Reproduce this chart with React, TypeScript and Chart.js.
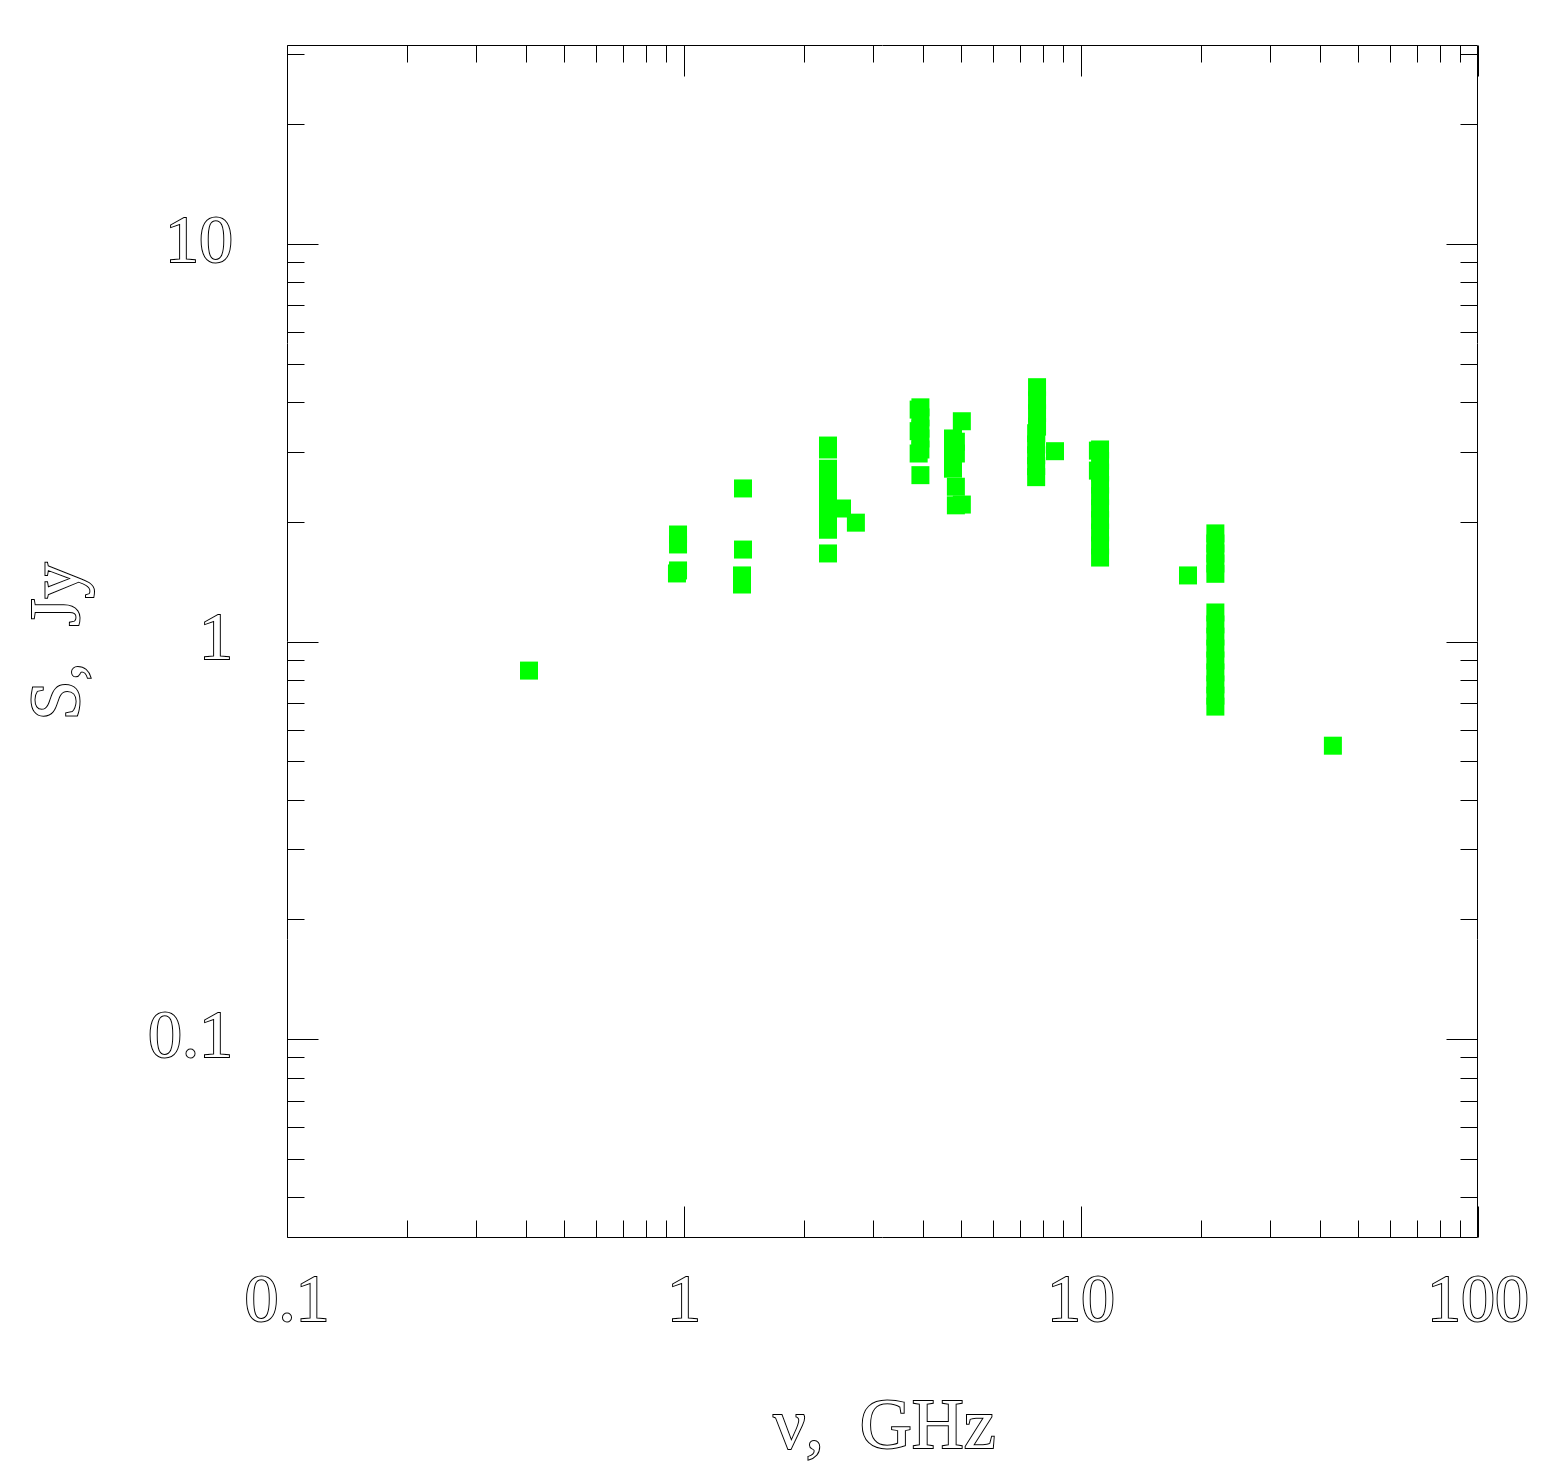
import React, { useEffect, useRef } from 'react';
import { Chart, registerables } from 'chart.js';

Chart.register(...registerables);

// Observed spectrum: frequency (GHz) and flux density (Jy)
const freqGHz = [
  0.407,
  0.966, 0.966, 0.966, 0.96,
  1.408, 1.408, 1.4, 1.4,
  2.305, 2.305, 2.305, 2.305, 2.305, 2.305, 2.305, 2.305, 2.305,
  2.5, 2.71,
  3.94, 3.94, 3.94, 3.94, 3.94, 3.9, 3.9, 3.9, 3.94,
  5.01,
  4.76, 4.76, 4.76, 4.76,
  4.84, 4.84, 4.84, 4.84,
  5.01,
  7.75, 7.75, 7.75, 7.75,
  7.71, 7.71, 7.71, 7.71, 7.71,
  8.6,
  11.17, 11.17, 11.17, 11.17, 11.17, 11.17, 11.17, 11.17, 11.17, 11.17,
  11.03, 11.03,
  18.6,
  21.8, 21.8, 21.8, 21.8, 21.8,
  21.8, 21.8, 21.8, 21.8, 21.8, 21.8, 21.8, 21.8, 21.8,
  43.1,
];
const fluxJy = [
  0.845,
  1.858, 1.754, 1.509, 1.483,
  2.426, 1.703, 1.466, 1.391,
  3.11, 3.04, 2.72, 2.54, 2.37, 2.2, 2.05, 1.91, 1.665,
  2.16, 1.99,
  3.88, 3.66, 3.43, 3.24, 3.04, 3.83, 3.38, 2.97, 2.62,
  3.58,
  3.24, 3.06, 2.89, 2.72,
  3.18, 2.97, 2.45, 2.2,
  2.21,
  4.36, 4.04, 3.75, 3.47,
  3.34, 3.13, 2.94, 2.76, 2.59,
  3.01,
  3.04, 2.85, 2.66, 2.48, 2.32, 2.16, 2.02, 1.88, 1.744, 1.626,
  3.02, 2.69,
  1.466,
  1.87, 1.764, 1.665, 1.571, 1.48,
  1.183, 1.104, 1.029, 0.96, 0.896, 0.836, 0.78, 0.731, 0.686,
  0.547,
];

const xMin = 0.1;
const xMax = 100;
const yMin = 0.031623;
const yMax = 31.623;

const xTickValues = [0.1, 1, 10, 100];
const xTickLabels = ['0.1', '1', '10', '100'];
const yTickValues = [0.1, 1, 10];
const yTickLabels = ['0.1', '1', '10'];

const xMinorTicks = [
  0.2, 0.3, 0.4, 0.5, 0.6, 0.7, 0.8, 0.9,
  2, 3, 4, 5, 6, 7, 8, 9,
  20, 30, 40, 50, 60, 70, 80, 90,
];
const yMinorTicks = [
  0.04, 0.05, 0.06, 0.07, 0.08, 0.09,
  0.2, 0.3, 0.4, 0.5, 0.6, 0.7, 0.8, 0.9,
  2, 3, 4, 5, 6, 7, 8, 9,
  20, 30,
];

const xTitle = 'ν,  GHz';
const yTitle = 'S,  Jy';

const FONT = "'Liberation Serif', 'DejaVu Serif', serif";
const FONT_SIZE = 68;
const TITLE_SIZE = 72;

const frameTicksPlugin = {
  id: 'frameTicks',
  afterDraw(chart: any) {
    const { ctx, chartArea: a, scales } = chart;
    const xs = scales.x;
    const ys = scales.y;
    const L = Math.round(a.left) + 0.5;
    const R = Math.round(a.right) - 0.5;
    const T = Math.round(a.top) + 0.5;
    const B = Math.round(a.bottom) - 0.5;
    ctx.save();
    ctx.strokeStyle = '#000';
    ctx.lineWidth = 1;
    ctx.beginPath();
    ctx.rect(L, T, R - L, B - T);
    const major = 31;
    const minor = 17;
    const xMark = (v: number, len: number) => {
      const px = Math.round(xs.getPixelForValue(v)) + 0.5;
      ctx.moveTo(px, B);
      ctx.lineTo(px, B - len);
      ctx.moveTo(px, T);
      ctx.lineTo(px, T + len);
    };
    const yMark = (v: number, len: number) => {
      const py = Math.round(ys.getPixelForValue(v)) + 0.5;
      ctx.moveTo(L, py);
      ctx.lineTo(L + len, py);
      ctx.moveTo(R, py);
      ctx.lineTo(R - len, py);
    };
    xTickValues.forEach((v) => xMark(v, major));
    xMinorTicks.forEach((v) => xMark(v, minor));
    yTickValues.forEach((v) => yMark(v, major));
    yMinorTicks.forEach((v) => yMark(v, minor));
    ctx.stroke();

    // axis titles, drawn as outlined text
    ctx.font = `${TITLE_SIZE}px ${FONT}`;
    ctx.lineWidth = 2;
    ctx.strokeStyle = '#000';
    ctx.fillStyle = '#fff';
    ctx.textAlign = 'center';
    ctx.textBaseline = 'alphabetic';
    const cx = (a.left + a.right) / 2 + 2;
    ctx.strokeText(xTitle, cx, a.bottom + 210);
    ctx.fillText(xTitle, cx, a.bottom + 210);
    ctx.save();
    ctx.translate(79, (a.top + a.bottom) / 2);
    ctx.rotate(-Math.PI / 2);
    ctx.strokeText(yTitle, 0, 0);
    ctx.fillText(yTitle, 0, 0);
    ctx.restore();
    ctx.restore();
  },
};

const zeroPadding = (s: any) => {
  s.paddingTop = 0;
  s.paddingBottom = 0;
  s.paddingLeft = 0;
  s.paddingRight = 0;
};

export default function App() {
  const canvasRef = useRef<HTMLCanvasElement | null>(null);

  useEffect(() => {
    const canvas = canvasRef.current;
    if (!canvas) return;
    const points = freqGHz.map((f, i) => ({ x: f, y: fluxJy[i] }));
    const tickFont = { family: FONT, size: FONT_SIZE };
    const chart = new Chart(canvas, {
      type: 'scatter',
      data: {
        datasets: [
          {
            data: points,
            backgroundColor: '#00ff00',
            borderColor: '#00ff00',
            borderWidth: 0,
            pointStyle: 'rect',
            pointRadius: 12.73,
            pointHoverRadius: 12.73,
          },
        ],
      },
      options: {
        responsive: false,
        animation: false,
        events: [],
        layout: { padding: { top: 45, right: 65, left: 0, bottom: 0 } },
        plugins: { legend: { display: false }, tooltip: { enabled: false } },
        scales: {
          x: {
            type: 'logarithmic',
            position: 'bottom',
            min: xMin,
            max: xMax,
            grid: { display: false, drawTicks: false },
            border: { display: false },
            ticks: {
              autoSkip: false,
              maxRotation: 0,
              minRotation: 0,
              padding: 24,
              font: tickFont,
              color: '#fff',
              textStrokeColor: '#000',
              textStrokeWidth: 2,
              callback: (_v: any, i: number) => xTickLabels[i],
            },
            afterBuildTicks: (s: any) => {
              s.ticks = xTickValues.map((v) => ({ value: v }));
            },
            afterFit: (s: any) => {
              s.height = 224;
              zeroPadding(s);
            },
          },
          y: {
            type: 'logarithmic',
            position: 'left',
            min: yMin,
            max: yMax,
            grid: { display: false, drawTicks: false },
            border: { display: false },
            ticks: {
              autoSkip: false,
              padding: 54,
              font: tickFont,
              color: '#fff',
              textStrokeColor: '#000',
              textStrokeWidth: 2,
              callback: (_v: any, i: number) => yTickLabels[i],
            },
            afterBuildTicks: (s: any) => {
              s.ticks = yTickValues.map((v) => ({ value: v }));
            },
            afterFit: (s: any) => {
              s.width = 287;
              zeroPadding(s);
            },
          },
        },
      } as any,
      plugins: [frameTicksPlugin],
    });
    return () => chart.destroy();
  }, []);

  return (
    <div style={{ position: 'absolute', left: 0, top: 0, width: 1543, height: 1462, background: '#fff' }}>
      <canvas ref={canvasRef} width={1543} height={1462} style={{ display: 'block' }} />
    </div>
  );
}
